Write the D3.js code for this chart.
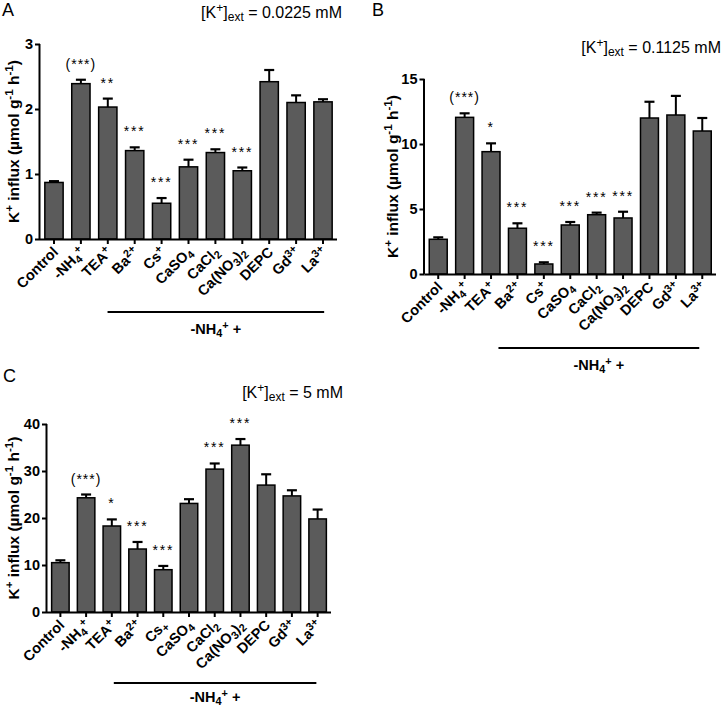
<!DOCTYPE html>
<html><head><meta charset="utf-8">
<script src="https://cdn.jsdelivr.net/npm/d3@7"></script>
<style>
body{margin:0;background:#fff;}
text{font-family:"Liberation Sans",Arial,sans-serif;}
</style></head>
<body><svg id="chart" width="722" height="708"></svg>
<script>
// ---- Data ----
const categories = ["Control","-NH_{4}^{+}","TEA^{+}","Ba^{2+}","Cs^{+}","CaSO_{4}","CaCl_{2}","Ca(NO_{3})_{2}","DEPC","Gd^{3+}","La^{3+}"];
const categoriesC = ["Control","-NH_{4}^{+}","TEA^{+}","Ba^{2+}","Cs_{+}","CaSO_{4}","CaCl_{2}","Ca(NO_{3})_{2}","DEPC","Gd^{3+}","La^{3+}"];

const valuesA = [0.87, 2.39, 2.03, 1.36, 0.55, 1.11, 1.33, 1.05, 2.42, 2.10, 2.11];
const errorsA = [0.02, 0.06, 0.13, 0.05, 0.08, 0.11, 0.05, 0.05, 0.18, 0.11, 0.04];
const starsA  = ["", "(***)", "**", "***", "***", "***", "***", "***", "", "", ""];
const ticksA  = [0, 1, 2, 3];

const valuesB = [2.67, 12.05, 9.41, 3.52, 0.77, 3.77, 4.56, 4.31, 12.0, 12.23, 11.0];
const errorsB = [0.15, 0.31, 0.64, 0.38, 0.13, 0.23, 0.16, 0.48, 1.25, 1.47, 1.0];
const starsB  = ["", "(***)", "*", "***", "***", "***", "***", "***", "", "", ""];
const ticksB  = [0, 5, 10, 15];

const valuesC = [10.5, 24.3, 18.3, 13.4, 9.0, 23.1, 30.4, 35.5, 27.0, 24.7, 19.8];
const errorsC = [0.5, 0.7, 1.4, 1.5, 0.8, 0.9, 1.2, 1.3, 2.3, 1.2, 2.0];
const starsC  = ["", "(***)", "*", "***", "***", "", "***", "***", "", "", ""];
const ticksC  = [0, 10, 20, 30, 40];

const groupLabel = "-NH_{4}^{+} +";
const yTitle = "K^{+} influx (µmol g^{-1} h^{-1})";
const titles = ["[K^{+}]_{ext} = 0.0225 mM", "[K^{+}]_{ext} = 0.1125 mM", "[K^{+}]_{ext} = 5 mM"];
const letters = ["A", "B", "C"];

// ---- Helpers ----
function richText(sel, str, size) {
  const re = /(_\{[^}]*\}|\^\{[^}]*\})/g;
  const parts = str.split(re).filter(s => s.length);
  parts.forEach(p => {
    if (p.startsWith("_{")) {
      sel.append("tspan").attr("baseline-shift", "-0.28em").attr("font-size", size * 0.75).text(p.slice(2, -1));
    } else if (p.startsWith("^{")) {
      sel.append("tspan").attr("baseline-shift", "0.5em").attr("font-size", size * 0.75).text(p.slice(2, -1));
    } else {
      sel.append("tspan").text(p);
    }
  });
}

const svg = d3.select("#chart");

function panel(o) {
  const g = svg.append("g");
  const x = d3.scaleBand().domain(o.cats.map((d, i) => i)).range([o.x0, o.x1]).paddingInner(0.32).paddingOuter(0.18);
  const y = d3.scaleLinear().domain([0, o.ymax]).range([o.y0, o.ytop]);

  g.selectAll("rect.bar").data(o.values).enter().append("rect")
    .attr("x", (d, i) => x(i)).attr("width", x.bandwidth())
    .attr("y", d => y(d)).attr("height", d => y(0) - y(d))
    .attr("fill", "#5b5b5b").attr("stroke", "#000").attr("stroke-width", 1.5);

  o.values.forEach((v, i) => {
    const cx = x(i) + x.bandwidth() / 2;
    const top = y(v + o.errors[i]);
    g.append("line").attr("x1", cx).attr("x2", cx).attr("y1", y(v)).attr("y2", top)
      .attr("stroke", "#000").attr("stroke-width", 2);
    g.append("line").attr("x1", cx - 5).attr("x2", cx + 5).attr("y1", top).attr("y2", top)
      .attr("stroke", "#000").attr("stroke-width", 2.2);
    if (o.stars[i]) {
      g.append("text").attr("x", cx).attr("y", top - 11).attr("text-anchor", "middle")
        .attr("font-size", 14).attr("letter-spacing", o.stars[i].startsWith("(") ? 1 : 1.8)
        .attr("fill", "#000").text(o.stars[i]);
    }
  });

  const ya = g.append("g").attr("transform", `translate(${o.x0},0)`)
    .call(d3.axisLeft(y).tickValues(o.ticks).tickSize(5).tickPadding(2).tickFormat(d3.format("d")));
  ya.select(".domain").attr("stroke-width", 2).attr("d", `M-0.5,${o.y0}V${o.ytop}`);
  ya.selectAll(".tick line").attr("stroke-width", 2);
  ya.selectAll(".tick text").attr("font-size", 14.5).attr("font-weight", "bold")
    .attr("font-family", "'Liberation Sans',Arial,sans-serif").attr("fill", "#000");

  const xa = g.append("g").attr("transform", `translate(0,${o.y0})`)
    .call(d3.axisBottom(x).tickSize(5).tickFormat(""));
  xa.select(".domain").attr("stroke-width", 2).attr("d", `M${o.x0},0.5H${o.x1}`);
  xa.selectAll(".tick line").attr("stroke-width", 2);
  o.cats.forEach((c, i) => {
    const cx = x(i) + x.bandwidth() / 2;
    const t = g.append("text").attr("text-anchor", "end").attr("font-size", 14.5).attr("font-weight", "bold")
      .attr("transform", `translate(${cx + 5},${o.y0 + 14}) rotate(-45)`);
    richText(t, c, 14.5);
  });

  const gx0 = x(3) + o.gl0, gx1 = x(10) + x.bandwidth() + o.gl1;
  g.append("line").attr("x1", gx0).attr("x2", gx1).attr("y1", o.gy).attr("y2", o.gy)
    .attr("stroke", "#000").attr("stroke-width", 2);
  const gl = g.append("text").attr("x", (gx0 + gx1) / 2).attr("y", o.gy + o.gly).attr("text-anchor", "middle")
    .attr("font-size", 14.5).attr("font-weight", "bold");
  richText(gl, groupLabel, 14.5);

  const yt = g.append("text").attr("text-anchor", "middle").attr("font-size", 15.5).attr("font-weight", "bold")
    .attr("transform", `translate(${o.ytx},${(o.y0 + o.ytop) / 2}) rotate(-90)`);
  richText(yt, yTitle, 15.5);

  const tt = g.append("text").attr("x", o.tx).attr("y", o.ty).attr("text-anchor", "end").attr("font-size", 16);
  richText(tt, o.title, 16);
  g.append("text").attr("x", o.lx).attr("y", o.ly).attr("font-size", 18).text(o.letter);
}

panel({cats: categories, values: valuesA, errors: errorsA, stars: starsA, ticks: ticksA, ymax: 3,
  x0: 40, x1: 337, y0: 239, ytop: 44, gy: 312, gly: 22, gl0: -18, gl1: -8, ytx: 19, title: titles[0], tx: 342, ty: 18, letter: letters[0], lx: 2, ly: 16});
panel({cats: categories, values: valuesB, errors: errorsB, stars: starsB, ticks: ticksB, ymax: 15,
  x0: 424.5, x1: 716, y0: 274, ytop: 79, gy: 348, gly: 22, gl0: -10, gl1: -12, ytx: 398, title: titles[1], tx: 721, ty: 53, letter: letters[1], lx: 372, ly: 16});
panel({cats: categoriesC, values: valuesC, errors: errorsC, stars: starsC, ticks: ticksC, ymax: 40,
  x0: 47, x1: 331, y0: 612, ytop: 424, gy: 683, gly: 19, gl0: -15, gl1: -10, ytx: 19, title: titles[2], tx: 343, ty: 398, letter: letters[2], lx: 3, ly: 382});
</script></body></html>
